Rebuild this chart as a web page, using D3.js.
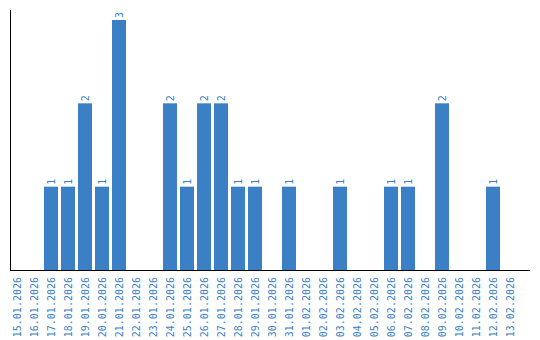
<!DOCTYPE html>
<html>
<head>
<meta charset="utf-8">
<script src="https://cdn.jsdelivr.net/npm/d3@7"></script>
<style>
  body { margin: 0; background: #fff; }
  svg { display: block; }
</style>
</head>
<body>
<svg id="chart"></svg>
<script>
// days shown on the x axis
const days = [
  "15.01.2026", "16.01.2026", "17.01.2026", "18.01.2026", "19.01.2026",
  "20.01.2026", "21.01.2026", "22.01.2026", "23.01.2026", "24.01.2026",
  "25.01.2026", "26.01.2026", "27.01.2026", "28.01.2026", "29.01.2026",
  "30.01.2026", "31.01.2026", "01.02.2026", "02.02.2026", "03.02.2026",
  "04.02.2026", "05.02.2026", "06.02.2026", "07.02.2026", "08.02.2026",
  "09.02.2026", "10.02.2026", "11.02.2026", "12.02.2026", "13.02.2026"
];
// count per day
const counts = [
  0, 0, 1, 1, 2,
  1, 3, 0, 0, 2,
  1, 2, 2, 1, 1,
  0, 1, 0, 0, 1,
  0, 0, 1, 1, 0,
  2, 0, 0, 1, 0
];

const data = days.map((d, i) => ({ day: d, count: counts[i] }));

const width = 540, height = 340;
const color = "#3b7fc4";
const font = "'DejaVu Sans Mono', monospace";

const svg = d3.select("#chart")
  .attr("width", width)
  .attr("height", height);

// band scale: 17px step, 14px bars
const x = d3.scaleBand()
  .domain(days)
  .range([10, 10 + 17 * (days.length - 3 / 17)])
  .paddingInner(3 / 17)
  .paddingOuter(0);

const y = d3.scaleLinear()
  .domain([0, d3.max(counts)])
  .range([270, 20]);

// bars
svg.selectAll("rect.bar")
  .data(data)
  .join("rect")
  .attr("class", "bar")
  .attr("x", d => x(d.day))
  .attr("width", x.bandwidth())
  .attr("y", d => y(d.count))
  .attr("height", d => y(0) - y(d.count))
  .attr("fill", color);

// value labels above bars (only non-zero)
svg.selectAll("text.val")
  .data(data.filter(d => d.count > 0))
  .join("text")
  .attr("class", "val")
  .attr("transform", d => `translate(${x(d.day) + x.bandwidth() / 2},${y(d.count) - 2}) rotate(-90)`)
  .attr("dy", "0.35em")
  .attr("text-anchor", "start")
  .attr("font-family", font)
  .attr("font-size", 10)
  .attr("fill", color)
  .text(d => d.count);

// x axis, ticks hidden, labels rotated
const xAxis = svg.append("g")
  .attr("transform", `translate(0,${y(0)})`)
  .call(d3.axisBottom(x).tickSize(0).tickSizeOuter(0));

xAxis.select(".domain").remove();
xAxis.selectAll("text")
  .attr("font-family", font)
  .attr("font-size", 10)
  .attr("fill", color)
  .attr("text-anchor", "end")
  .attr("transform", "rotate(-90)")
  .attr("x", -7)
  .attr("y", 0)
  .attr("dy", "0.35em");

// axis lines
svg.append("line")
  .attr("x1", 10.5).attr("x2", 10.5)
  .attr("y1", 10).attr("y2", y(0))
  .attr("stroke", "#000");

svg.append("line")
  .attr("x1", 10).attr("x2", 530)
  .attr("y1", y(0) + 0.5).attr("y2", y(0) + 0.5)
  .attr("stroke", "#000");
</script>
</body>
</html>
